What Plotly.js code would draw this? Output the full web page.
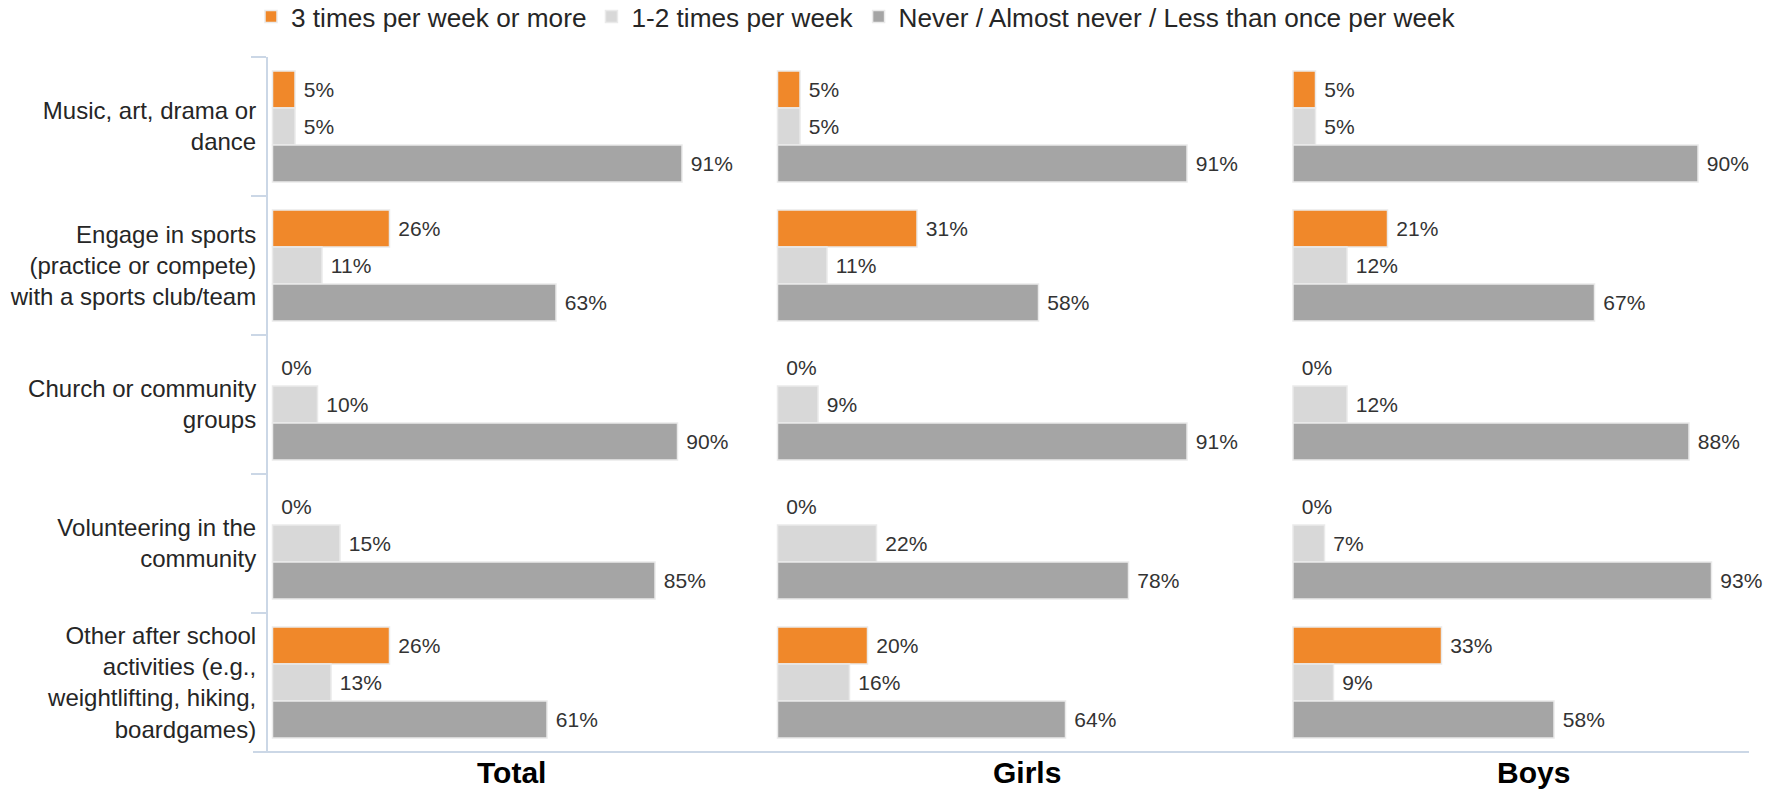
<!DOCTYPE html>
<html>
<head>
<meta charset="utf-8">
<script src="https://cdn.plot.ly/plotly-3.0.1.min.js"></script>
<style>html,body{margin:0;padding:0;background:#fff;}#chart{width:1774px;height:790px;}</style>
</head>
<body>
<div id="chart"></div>
<script>
// ---- data ----
const categories = [
  "Music, art, drama or<br>dance",
  "Engage in sports<br>(practice or compete)<br>with a sports club/team",
  "Church or community<br>groups",
  "Volunteering in the<br>community",
  "Other after school<br>activities (e.g.,<br>weightlifting, hiking,<br>boardgames)"
];
const panelNames = ["Total", "Girls", "Boys"];
const seriesNames = ["3 times per week or more", "1-2 times per week", "Never / Almost never / Less than once per week"];

const total3plus = [5, 26, 0, 0, 26];
const total1to2  = [5, 11, 10, 15, 13];
const totalNever = [91, 63, 90, 85, 61];

const girls3plus = [5, 31, 0, 0, 20];
const girls1to2  = [5, 11, 9, 22, 16];
const girlsNever = [91, 58, 91, 78, 64];

const boys3plus = [5, 21, 0, 0, 33];
const boys1to2  = [5, 12, 12, 7, 9];
const boysNever = [90, 67, 88, 93, 58];

// ---- styling ----
const colors = ["#F0882A", "#D8D8D8", "#A5A5A5"];
const panelData = [
  [total3plus, total1to2, totalNever],
  [girls3plus, girls1to2, girlsNever],
  [boys3plus, boys1to2, boysNever]
];
const axisColor = "#CBD7E6";
const W = 1506, L = 268, H = 695, T = 57;
function px(p) { return (p - L) / W; }
function py(p) { return 1 - (p - T) / H; }
const domains = [[px(268), px(722.5)], [px(773), px(1227.5)], [px(1288.5), px(1743)]];
const titleCenters = [511.5, 1027, 1533];

const traces = [];
panelData.forEach((series, p) => {
  series.forEach((vals, s) => {
    traces.push({
      type: "bar",
      orientation: "h",
      x: vals,
      y: categories,
      xaxis: p === 0 ? "x" : "x" + (p + 1),
      yaxis: "y",
      name: seriesNames[s],
      legendgroup: "s" + s,
      showlegend: p === 0,
      marker: {
        color: colors[s],
        line: { color: "#EAEAEA", width: vals.map(v => v > 0 ? 1.5 : 0) }
      },
      texttemplate: "\u00a0%{x}%",
      textposition: "outside",
      textfont: { family: "Liberation Sans, Arial, sans-serif", size: 21, color: "#333333" },
      cliponaxis: false,
      constraintext: "none",
      hoverinfo: "x+y+name"
    });
  });
});

const layout = {
  width: 1774,
  height: 790,
  margin: { l: L, r: 0, t: T, b: 38, pad: 0, autoexpand: false },
  paper_bgcolor: "#ffffff",
  plot_bgcolor: "#ffffff",
  font: { family: "Liberation Sans, Arial, sans-serif", color: "#262626" },
  barmode: "group",
  bargap: 0.2,
  bargroupgap: 0,
  showlegend: true,
  legend: {
    orientation: "h",
    x: px(251), xanchor: "left",
    y: py(17), yanchor: "middle",
    font: { size: 26.2, color: "#262626" },
    traceorder: "normal",
    bgcolor: "rgba(0,0,0,0)"
  },
  yaxis: {
    type: "category",
    categoryorder: "array",
    categoryarray: categories,
    autorange: "reversed",
    anchor: "x",
    showline: true,
    linecolor: axisColor,
    linewidth: 2,
    ticks: "outside",
    tickson: "boundaries",
    ticklen: 15,
    tickwidth: 2,
    tickcolor: axisColor,
    showgrid: false,
    zeroline: false,
    tickfont: { size: 24, color: "#262626" },
    ticklabelstandoff: 5
  },
  shapes: [{
    type: "line", xref: "paper", yref: "paper",
    x0: px(253), x1: px(1749), y0: 0, y1: 0,
    line: { color: axisColor, width: 2 }
  }],
  annotations: panelNames.map((n, i) => ({
    text: "<b>" + n + "</b>",
    xref: "paper", yref: "paper",
    x: px(titleCenters[i]), y: 0,
    xanchor: "center", yanchor: "middle",
    yshift: -20,
    showarrow: false,
    font: { size: 30, color: "#000000" }
  }))
};

panelNames.forEach((n, i) => {
  const key = i === 0 ? "xaxis" : "xaxis" + (i + 1);
  layout[key] = {
    domain: domains[i],
    range: [-1, 100],
    anchor: "y",
    showticklabels: false,
    showgrid: false,
    zeroline: false,
    showline: false,
    ticks: ""
  };
});

Plotly.newPlot("chart", traces, layout, { displayModeBar: false });
</script>
</body>
</html>
